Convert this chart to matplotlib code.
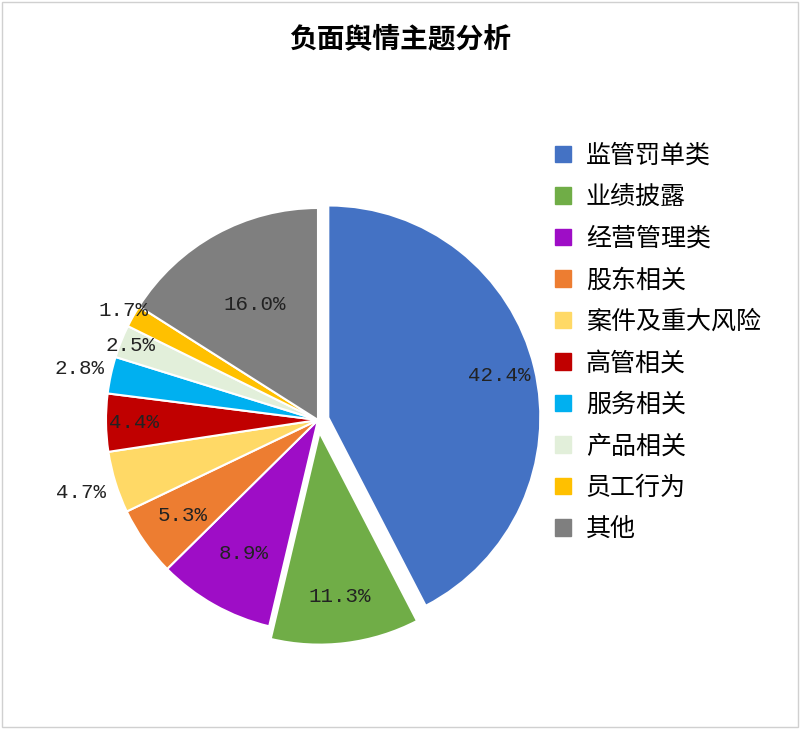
import matplotlib.pyplot as plt
import numpy as np
from matplotlib.patches import Rectangle

labels = ["监管罚单类", "业绩披露", "经营管理类", "股东相关", "案件及重大风险",
          "高管相关", "服务相关", "产品相关", "员工行为", "其他"]
values = [42.4, 11.3, 8.9, 5.3, 4.7, 4.4, 2.8, 2.5, 1.7, 16.0]
colors = ["#4472c4", "#70ad47", "#9e0dc6", "#ed7d31", "#ffd966",
          "#c00000", "#00b0f0", "#e2efda", "#ffc000", "#7f7f7f"]
explode = [0.05, 0.06, 0, 0, 0, 0, 0, 0, 0, 0]
# radial position of each percentage label (fraction of radius)
label_r = [0.83, 0.78, 0.72, 0.78, 1.17, 0.87, 1.15, 0.95, 1.05, 0.62]

fig = plt.figure(figsize=(8, 7.29), dpi=100)
cjk = "Noto Sans CJK SC"
fig.text(0.5, 0.945, "负面舆情主题分析", ha="center", va="center",
         fontsize=20, fontweight="bold", family=cjk)

W, H = 800, 729
cx, cy, r = 318, 420, 212
m = 1.3
ax = fig.add_axes([(cx - r * m) / W, (H - cy - r * m) / H, 2 * r * m / W, 2 * r * m / H])
wedges, _ = ax.pie(values, colors=colors, explode=explode, startangle=90,
                   counterclock=False, radius=1,
                   wedgeprops=dict(edgecolor="white", linewidth=1.5))
ax.set_xlim(-m, m)
ax.set_ylim(-m, m)
ax.axis("off")

for w, v, lr, e in zip(wedges, values, label_r, explode):
    ang = np.deg2rad((w.theta1 + w.theta2) / 2)
    d = lr + e
    ax.text(d * np.cos(ang), d * np.sin(ang), f"{v:.1f}%", ha="center", va="center",
            fontsize=15, family="Liberation Mono", color="#222222")

handles = [Rectangle((0, 0), 1, 1, color=c) for c in colors]
fig.legend(handles, labels, loc="upper left", bbox_to_anchor=(0.665, 0.835),
           frameon=False, prop={"family": cjk, "size": 18},
           handlelength=0.65, handleheight=0.65, labelspacing=0.62, handletextpad=0.6)

fig.patches.append(Rectangle((0.003, 0.003), 0.994, 0.994, transform=fig.transFigure,
                             fill=False, edgecolor="#d0d0d0", linewidth=1))
fig.savefig("out.png", dpi=100)
